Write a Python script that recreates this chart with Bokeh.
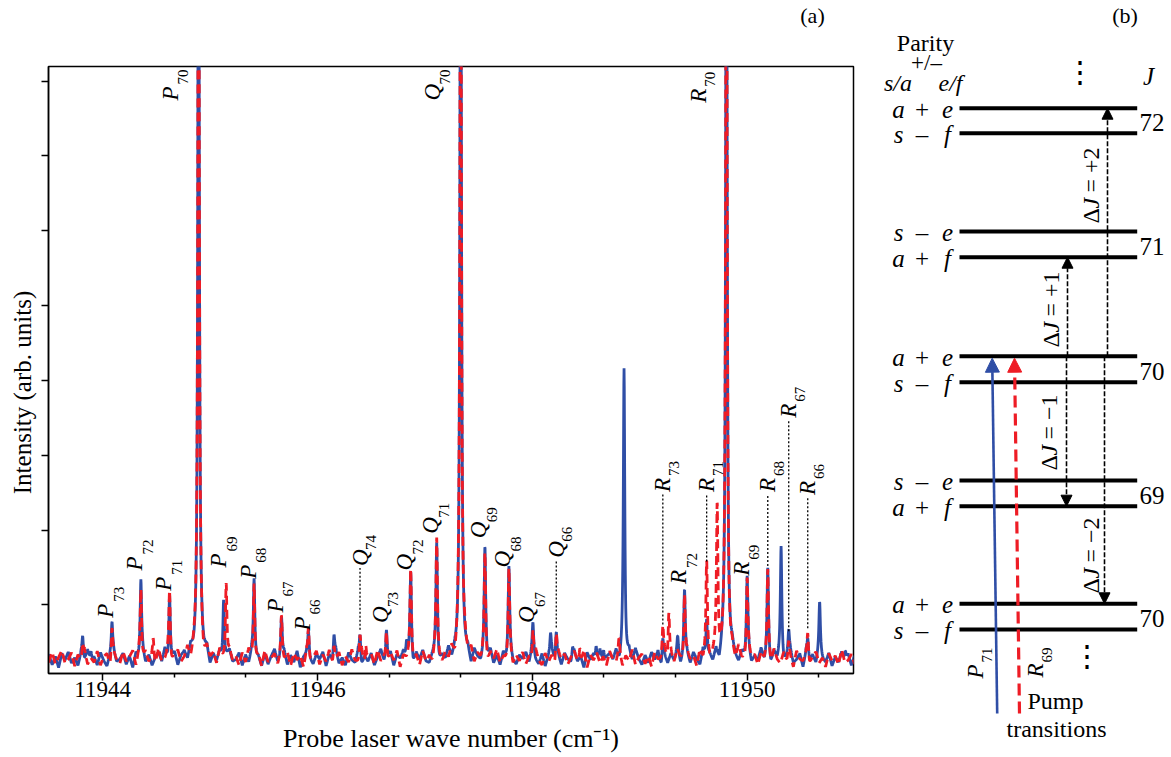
import numpy as np
from bokeh.plotting import figure
from bokeh.models import Range1d, FixedTicker, Arrow, NormalHead
from bokeh.layouts import row, column
from bokeh.core.properties import value
from bokeh.embed import file_html
from bokeh.resources import INLINE

# ---------------- data : panel (a) ----------------
# peak positions (cm^-1) and peak heights above the baseline (arb. units)
blue_centers = [11943.814, 11943.891, 11944.087, 11944.356, 11944.623, 11944.893, 11945.126,
                11945.410, 11945.665, 11945.916, 11946.154, 11946.396, 11946.642, 11946.830,
                11946.868, 11947.110, 11947.333, 11947.559, 11947.782, 11948.006, 11948.170,
                11948.223, 11948.375, 11948.595, 11948.663, 11948.854, 11949.215, 11949.354,
                11949.417, 11949.623, 11949.807, 11950.000, 11950.192, 11950.316, 11950.387,
                11950.564, 11950.675, 11950.914]
blue_heights = [0.29, 0.16, 0.42, 1.02, 0.91, 12.0, 0.84,
                1.06, 0.56, 0.36, 0.29, 0.33, 0.42, 0.27,
                1.15, 1.53, 12.0, 1.46, 1.15, 0.40, 0.27,
                0.36, 0.13, 0.21, 0.19, 3.92, 0.31, 0.22,
                0.90, 0.55, 12.0, 1.02, 1.18, 1.47, 0.31,
                0.24, 0.67, 0.12]
red_centers = [11943.814, 11944.087, 11944.356, 11944.471, 11944.623, 11944.893, 11945.150,
               11945.410, 11945.665, 11945.916, 11946.154, 11946.396, 11946.449, 11946.642,
               11946.868, 11947.110, 11947.333, 11947.559, 11947.782, 11948.006, 11948.223,
               11948.443, 11948.806, 11949.215, 11949.271, 11949.417, 11949.623, 11949.721,
               11949.807, 11950.000, 11950.192, 11950.387, 11950.564]
red_heights = [0.17, 0.42, 0.91, 0.29, 0.91, 12.0, 1.07,
               1.06, 0.56, 0.40, 0.21, 0.29, 0.24, 0.42,
               1.15, 1.53, 12.0, 1.40, 1.15, 0.40, 0.36,
               0.20, 0.20, 0.40, 0.64, 0.90, 1.24, 1.95,
               12.0, 1.02, 1.15, 0.24, 0.35]
# baseline noise, every 0.03 cm^-1 from 11943.50 (hundredths)
blue_noise = [5, -8, 3, -12, 7, -2, 9, -6, 1, -10, 6, -4, 11, -7, 2, -9, 8, -3, -11, 4, 10, -5, -1, 7, -8,
              3, -13, 6, -2, 9, -7, 4, -10, 1, 8, -5, 12, -9, -3, 6, -11, 2, 7, -6, 10, -4, -8, 5, -1, 9,
              -12, 3, -6, 8, -9, 2, 11, -5, -2, 7, -10, 4, -7, 9, -3, 1, -11, 6, -8, 3, 12, -6, -1, 8, -9,
              4, -5, 10, -12, 2, 7, -3, -8, 6, -1, 9, -10, 5, -4, 11, -7, 1, -9, 8, -2, -6, 10, -11, 3, -4,
              7, -9, 2, 12, -6, -3, 8, -10, 5, -1, 9, -7, 4, -12, 6, -2, 10, -5, -8, 3, 7, -11, 1, -4, 11,
              -6, 2, -9, 8, -3, 5, -12, 9, -1, -7, 6, -4, 10, -8, 3, -10, 7, -2, 12, -5, -9, 4, -1, 8, -6,
              11, -3, -8, 6, -11, 2, 9, -5, 4, -9, 7, -1, -6, 10, -4, 3, -12, 8, -2, 5, -7, 11, -10, 1, 6,
              -3, 9, -8, 2, -11, 7, -5, 12, -1, -9, 4, -6, 8, -2, 10, -12, 3, -7, 6, -4, 9, -10, 1, 5, -8,
              7, -2, -10, 11, -5, 3, -7, 8, -12, 4, 1, -6, 9, -3, -9, 6, -1, 10, -8, 2, -4, 12, -6, 3, -11,
              8, -4, 5, -9, 1, 10, -7, -2, 6, -12, 9, -3, 4, -8, 11, -1, -6, 7, -10, 2, -5, 9, -3, 6, -9,
              4]
red_noise = [-4, 9, -7, 2, 11, -6, -1, 8, -10, 5, -3, 12, -8, 1, -5, 10, -9, 3, 6, -12, 7, -2, -7, 9, -4,
             2, 10, -11, 6, -3, 8, -6, 1, -9, 12, -5, -2, 7, -10, 4, 9, -7, -1, 11, -8, 3, -4, 6, -12, 8,
             -3, 5, -9, 11, -1, -7, 9, -4, 2, -10, 7, -6, 12, -2, -8, 4, -11, 10, -5, 1, 6, -9, 3, -3, 8,
             -10, 7, -2, 4, -12, 9, -6, 1, 10, -8, 5, -4, 11, -7, -1, 8, -9, 3, -5, 12, -3, -6, 9, -11, 2,
             6, -8, 11, -4, 1, -9, 7, -3, 10, -12, 4, -1, 8, -6, 3, -10, 9, -5, 2, -7, 12, -2, -8, 5, -4,
             9, -11, 3, -6, 8, -1, 10, -9, 4, -3, 7, -12, 6, -2, 11, -7, 1, -5, 9, -10, 3, -4, 8, -8, 2,
             -6, 12, -3, -9, 7, -5, 4, -11, 9, -1, 6, -8, 2, 10, -4, -7, 11, -12, 5, -2, 8, -6, 3, -9, 10,
             -1, -5, 9, -10, 4, -3, 12, -8, 1, 6, -7, 3, -11, 8, -2, -4, 10, -9, 5, -6, 11, -1, -8, 7, -3,
             2, -12, 9, -4, 6, -7, 1, 10, -5, -2, 8, -11, 4, -8, 12, -3, -6, 9, -1, 3, -10, 7, -4, 5, -9,
             11, -2, -7, 8, -5, 3, -12, 10, -1, -4, 6, -9, 2, 9, -6, 1, -11, 7, -3, 4, -8, 12, -5, -2, 6,
             -7]
baseline = 0.28

# line labels
lab_branch = ["P"] * 8 + ["Q"] * 9 + ["R"] * 8
lab_j = ["73", "72", "71", "70", "69", "68", "67", "66",
         "74", "73", "72", "71", "70", "69", "68", "67", "66",
         "73", "72", "71", "70", "69", "68", "67", "66"]
lab_pos = [11944.087, 11944.356, 11944.623, 11944.893, 11945.138, 11945.410, 11945.665, 11945.916,
           11946.396, 11946.642, 11946.868, 11947.110, 11947.333, 11947.559, 11947.782, 11948.006, 11948.223,
           11949.215, 11949.417, 11949.623, 11949.807, 11950.000, 11950.192, 11950.387, 11950.564]
lab_base = [0.83, 1.46, 1.19, 7.74, 1.50, 1.35, 0.90, 0.66,
            1.52, 0.76, 1.46, 1.95, 7.74, 1.89, 1.50, 0.76, 1.63,
            2.51, 1.28, 2.51, 7.71, 1.39, 2.51, 3.50, 2.47]
lab_kind = ["n", "n", "n", "t", "n", "n", "n", "n",
            "l", "n", "n", "n", "t", "n", "n", "n", "l",
            "l", "n", "l", "t", "n", "l", "l", "l"]

x_ticks = [11944, 11946, 11948, 11950]
x_minor = [11944.667, 11945.333, 11946.667, 11947.333, 11948.667, 11949.333, 11950.667]
y_ticks = [1, 2, 3, 4, 5, 6, 7, 8]

# ---------------- data : panel (b) ----------------
level_E = [649.3, 624.3, 526.0, 500.3, 401.3, 375.3, 277.0, 251.3, 153.7, 128.0]
level_sa = ["a", "s", "s", "a", "a", "s", "s", "a", "a", "s"]
level_pm = ["+", "\u2013", "\u2013", "+", "+", "\u2013", "\u2013", "+", "+", "\u2013"]
level_ef = ["e", "f", "e", "f", "e", "f", "e", "f", "e", "f"]
J_values = ["72", "71", "70", "69", "70"]
dJ_text = ["+2", "+1", "\u22121", "\u22122"]
dJ_target = [0, 3, 7, 8]     # index of the final level, all start from level 4

FONT = "Liberation Serif"
BLUE = "#2f4ea6"
RED = "#ee1c25"
H = 757


def blank(w, h, xr, yr):
    f = figure(width=w, height=h, x_range=Range1d(*xr), y_range=Range1d(*yr),
               x_axis_type=None, y_axis_type=None, output_backend="svg",
               toolbar_location=None, min_border=0)
    f.outline_line_color = None
    f.background_fill_color = "white"
    f.border_fill_color = "white"
    f.frame_align = False
    return f


# ================= y label strip and (a) strip =================
YW = 38
TH = 40
ylab = blank(YW, H, (0, YW), (0, H))
ylab.text(x=[22], y=[H - 392], text=["Intensity (arb. units)"], angle=np.pi / 2,
          text_font=value(FONT), text_font_size="25px", text_align="center",
          text_baseline="middle", text_color="black")

W = 870 - YW
topa = blank(W, TH, (0, W), (0, TH))
topa.text(x=[812 - YW], y=[TH - 15], text=["(a)"], text_font=value(FONT), text_font_size="22px",
          text_align="center", text_baseline="middle", text_color="black")

# ================= panel (a) =================
BL, BR, BT, BB = 48 - YW, 17, 66 - TH, 84
PH = H - TH
x0, x1 = 11943.496, 11950.99
y0, y1 = 0.084, 8.195
p = figure(width=W, height=PH, x_range=Range1d(x0, x1), y_range=Range1d(y0, y1),
           output_backend="svg", toolbar_location=None,
           min_border_left=BL, min_border_right=BR, min_border_top=BT, min_border_bottom=BB)
p.frame_align = False
pxu = (W - BL - BR) / (x1 - x0)
pyu = (PH - BT - BB) / (y1 - y0)

p.grid.visible = False
p.outline_line_color = "black"
p.outline_line_width = 1.5
p.background_fill_color = "white"
p.border_fill_color = "white"

p.xaxis.ticker = FixedTicker(ticks=x_ticks, minor_ticks=x_minor)
p.xaxis.major_label_overrides = {t: str(t) for t in x_ticks}
p.xaxis.major_tick_out = 7
p.xaxis.major_tick_in = 0
p.xaxis.minor_tick_out = 4
p.xaxis.minor_tick_in = 0
p.xaxis.major_label_standoff = 1
p.xaxis.major_label_text_font = FONT
p.xaxis.major_label_text_font_size = "23px"
p.xaxis.major_label_text_color = "black"
p.xaxis.axis_label = "Probe laser wave number (cm\u207b\u00b9)"
p.xaxis.axis_label_text_font = FONT
p.xaxis.axis_label_text_font_size = "26px"
p.xaxis.axis_label_text_font_style = "normal"
p.xaxis.axis_label_standoff = 24
p.xaxis.axis_label_text_color = "black"

p.yaxis.ticker = FixedTicker(ticks=y_ticks, minor_ticks=[])
p.yaxis.major_tick_out = 7
p.yaxis.major_tick_in = 0
p.yaxis.minor_tick_out = 0
p.yaxis.major_label_standoff = 0
p.yaxis.major_label_overrides = {t: " " for t in y_ticks}
p.yaxis.major_label_text_font_size = "1px"
for ax in (p.xaxis, p.yaxis):
    ax.axis_line_width = 1.5
    ax.axis_line_color = "black"
    ax.major_tick_line_width = 1.5
    ax.minor_tick_line_width = 1.5
    ax.major_tick_line_color = "black"
    ax.minor_tick_line_color = "black"

xs = np.arange(11943.49, 11951.0, 0.002)
HW = 0.008


def trace(noise, centers, heights):
    nx = 11943.5 + 0.03 * np.arange(len(noise))
    y = baseline + np.interp(xs, nx, np.asarray(noise, dtype=float) / 100.0)
    for c, h in zip(centers, heights):
        y = y + h / (1.0 + ((xs - c) / HW) ** 2)
    return y


p.line(xs, trace(blue_noise, blue_centers, blue_heights), line_color=BLUE, line_width=2.8)
p.line(xs, trace(red_noise, red_centers, red_heights), line_color=RED, line_width=2.8,
       line_dash="9 5")


def peak_top(c):
    hb = max([h for cc, h in zip(blue_centers, blue_heights) if abs(cc - c) < 0.012] + [0])
    hr = max([h for cc, h in zip(red_centers, red_heights) if abs(cc - c) < 0.012] + [0])
    return baseline + max(hb, hr) + 0.06


shift = {"n": (-6, 7), "l": (0, 11), "t": (-28, -16)}
let_x, let_y, sub_x, sub_y = [], [], [], []
led_x, led_y0, led_y1 = [], [], []
for b, j, c, yb, k in zip(lab_branch, lab_j, lab_pos, lab_base, lab_kind):
    dl, ds = shift[k]
    let_x.append(c + dl / pxu)
    let_y.append(yb)
    sub_x.append(c + ds / pxu)
    sub_y.append(yb + 16 / pyu)
    if k == "l":
        led_x.append(c)
        led_y0.append(peak_top(c))
        led_y1.append(yb - 2 / pyu)

p.segment(x0=led_x, y0=led_y0, x1=led_x, y1=led_y1, line_color="black", line_width=1.3,
          line_dash="2 2")
p.text(x=let_x, y=let_y, text=lab_branch, angle=np.pi / 2, text_font=value(FONT),
       text_font_style="italic", text_font_size="23px", text_align="left",
       text_baseline="middle", text_color="black")
p.text(x=sub_x, y=sub_y, text=lab_j, angle=np.pi / 2, text_font=value(FONT),
       text_font_size="15px", text_align="left", text_baseline="middle", text_color="black")

# ================= panel (b) =================
q = blank(301, H, (0, 301), (0, H))

LX0, LX1 = 89, 266.7
q.segment(x0=[LX0] * len(level_E), x1=[LX1] * len(level_E), y0=level_E, y1=level_E,
          line_color="black", line_width=4)
ly = [e - 1 for e in level_E]
q.text(x=[28] * len(ly), y=ly, text=level_sa, text_font=value(FONT), text_font_style="italic",
       text_font_size="25px", text_align="center", text_baseline="middle", text_color="black")
q.text(x=[51.5] * len(ly), y=ly, text=level_pm, text_font=value(FONT),
       text_font_size="25px", text_align="center", text_baseline="middle", text_color="black")
q.text(x=[77] * len(ly), y=ly, text=level_ef, text_font=value(FONT), text_font_style="italic",
       text_font_size="25px", text_align="center", text_baseline="middle", text_color="black")
Jy = [(level_E[2 * i] + level_E[2 * i + 1]) / 2 - 2 for i in range(len(J_values))]
q.text(x=[269] * len(Jy), y=Jy, text=J_values, text_font=value(FONT), text_font_size="25px",
       text_align="left", text_baseline="middle", text_color="black")

# header
q.text(x=[55], y=[715], text=["Parity"], text_font=value(FONT), text_font_size="24px",
       text_align="center", text_baseline="middle", text_color="black")
q.text(x=[56], y=[695], text=["+/\u2013"], text_font=value(FONT), text_font_size="23px",
       text_align="center", text_baseline="middle", text_color="black")
q.text(x=[27.5, 80], y=[675, 675], text=["s/a", "e/f"], text_font=value(FONT),
       text_font_style="italic", text_font_size="24px", text_align="center",
       text_baseline="middle", text_color="black")
q.text(x=[278], y=[681], text=["J"], text_font=value(FONT), text_font_style="italic",
       text_font_size="25px", text_align="center", text_baseline="middle", text_color="black")
q.text(x=[254.5], y=[742], text=["(b)"], text_font=value(FONT), text_font_size="22px",
       text_align="center", text_baseline="middle", text_color="black")
q.text(x=[209, 216], y=[686, 102], text=["\u22ee", "\u22ee"], text_font=value("DejaVu Serif"),
       text_font_size="30px", text_align="center", text_baseline="middle", text_color="black")

# Delta J arrows
arrow_x = [237, 197, 196, 234]
label_x = [220, 180, 178, 220]
label_c = [574, 450, 327, 204]
for ax_, tgt, lx, lc, t in zip(arrow_x, dJ_target, label_x, label_c, dJ_text):
    q.add_layout(Arrow(end=NormalHead(size=11, fill_color="black", line_color="black"),
                       x_start=ax_, y_start=level_E[4], x_end=ax_, y_end=level_E[tgt],
                       line_color="black", line_width=1.6, line_dash="5 2"))
    start = lc - 40
    q.text(x=[lx], y=[start], text=["\u0394"], angle=np.pi / 2, text_font=value(FONT),
           text_font_size="24px", text_align="left", text_baseline="middle", text_color="black")
    q.text(x=[lx], y=[start + 15], text=["J"], angle=np.pi / 2, text_font=value(FONT),
           text_font_style="italic", text_font_size="24px", text_align="left",
           text_baseline="middle", text_color="black")
    q.text(x=[lx], y=[start + 31], text=["= " + t], angle=np.pi / 2, text_font=value(FONT),
           text_font_size="24px", text_align="left", text_baseline="middle", text_color="black")

# pump transitions
tip = level_E[4] - 2
q.add_layout(Arrow(end=NormalHead(size=14, fill_color=BLUE, line_color=BLUE),
                   x_start=126.7, y_start=44, x_end=121.7, y_end=tip,
                   line_color=BLUE, line_width=2.6))
q.add_layout(Arrow(end=NormalHead(size=14, fill_color=RED, line_color=RED),
                   x_start=149, y_start=44, x_end=144, y_end=tip,
                   line_color=RED, line_width=3.2, line_dash="12 6"))
q.text(x=[105, 165], y=[79, 80], text=["P", "R"], angle=np.pi / 2, text_font=value(FONT),
       text_font_style="italic", text_font_size="23px", text_align="left",
       text_baseline="middle", text_color="black")
q.text(x=[116, 176], y=[95, 95], text=["71", "69"], angle=np.pi / 2, text_font=value(FONT),
       text_font_size="15px", text_align="left", text_baseline="middle", text_color="black")
q.text(x=[185, 186], y=[57, 29], text=["Pump", "transitions"], text_font=value(FONT),
       text_font_size="24px", text_align="center", text_baseline="middle", text_color="black")

layout = row(ylab, column(topa, p), q)
open("out.html", "w").write(file_html(layout, INLINE))
